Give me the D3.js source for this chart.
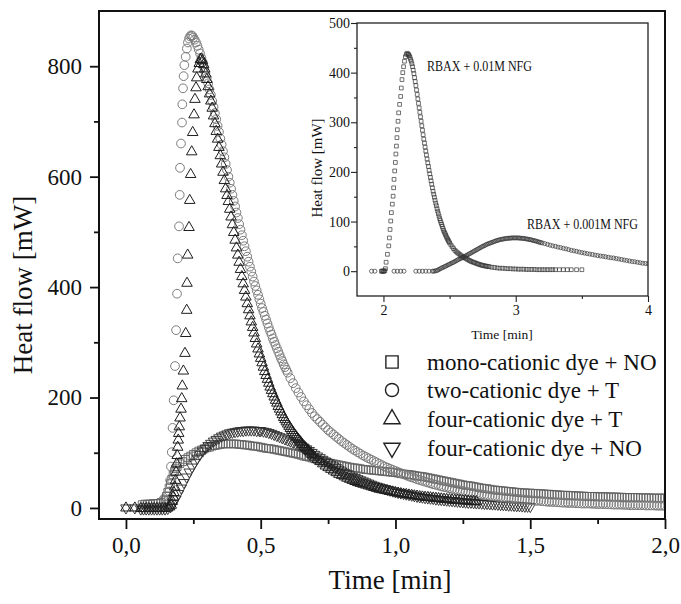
<!DOCTYPE html>
<html><head><meta charset="utf-8">
<script src="https://cdn.jsdelivr.net/npm/d3@7"></script>
<style>
body{margin:0;background:#fff;}
svg{display:block;}
text{font-family:"Liberation Serif","Times New Roman",serif;fill:#111;}
</style>
</head><body>
<svg id="c" width="681" height="604"></svg>
<script>
// ---------- DATA (time [min], heat flow [mW]) ----------
const legendLabels = ["mono-cationic dye + NO","two-cationic dye + T","four-cationic dye + T","four-cationic dye + NO"];
const xTicks = [0,0.5,1.0,1.5,2.0];
const xMinorTicks = [0.25,0.75,1.25,1.75];
const yTicks = [0,200,400,600,800];
const yMinorTicks = [100,300,500,700];
const insetXTicks = [2,3,4];
const insetXMinor = [2.5,3.5];
const insetYTicks = [0,100,200,300,400,500];
const insetYMinor = [50,150,250,350,450];
const insetNotes = ["RBAX + 0.01M NFG","RBAX + 0.001M NFG"];

const monoNO = [[0.06,6],[0.07,7],[0.08,7],[0.09,7],[0.10,8],[0.11,8],[0.12,8],[0.13,10],[0.14,13],[0.145,16],[0.15,21],[0.155,28],[0.16,36],[0.165,44],[0.17,52],[0.175,60],[0.18,66],[0.185,71],[0.19,75],[0.20,80],[0.21,84],[0.22,88],[0.23,91],[0.24,94],[0.25,97],[0.26,100],[0.27,103],[0.28,105],[0.29,107],[0.30,109],[0.31,110],[0.32,112],[0.33,113],[0.34,114],[0.35,115],[0.36,116],[0.37,116],[0.38,116],[0.39,116],[0.40,116],[0.41,116],[0.42,115],[0.43,115],[0.44,114],[0.45,114],[0.46,113],[0.47,112],[0.48,112],[0.49,111],[0.50,110],[0.51,109],[0.52,108],[0.53,107.5],[0.54,107],[0.55,106],[0.56,105],[0.57,104],[0.58,103],[0.59,102],[0.60,101],[0.61,100],[0.62,99],[0.63,98],[0.64,97],[0.65,95.5],[0.66,94],[0.67,93],[0.68,92],[0.69,90.5],[0.70,89],[0.71,87.5],[0.72,86],[0.73,84.5],[0.74,83],[0.75,82],[0.76,81],[0.77,80],[0.78,79],[0.79,78],[0.80,77],[0.81,76],[0.82,75],[0.83,74],[0.84,73],[0.85,72.5],[0.86,72],[0.87,71],[0.88,70],[0.89,69.5],[0.90,69],[0.91,68.5],[0.92,68],[0.93,67.5],[0.94,67],[0.95,66.5],[0.96,66],[0.97,65.5],[0.98,65],[0.99,64.5],[1.00,64],[1.01,63],[1.02,62],[1.03,61.5],[1.04,61],[1.05,60.5],[1.06,60],[1.07,59],[1.08,58],[1.09,57.5],[1.10,57],[1.11,56],[1.12,55],[1.13,54],[1.14,53],[1.15,52],[1.16,51],[1.17,50],[1.18,49],[1.19,48],[1.20,47],[1.21,46],[1.22,45],[1.23,44],[1.24,43],[1.25,42],[1.26,41],[1.27,40.5],[1.28,40],[1.29,39],[1.30,38],[1.31,37],[1.32,36],[1.33,35.5],[1.34,35],[1.35,34],[1.36,33],[1.37,32.5],[1.38,32],[1.39,31.5],[1.40,31],[1.41,30.5],[1.42,30],[1.43,29.5],[1.44,29],[1.45,28.5],[1.46,28],[1.47,27.5],[1.48,27.5],[1.49,27],[1.50,27],[1.51,26.5],[1.52,26.5],[1.53,26],[1.54,26],[1.55,25.5],[1.56,25],[1.57,25],[1.58,24.5],[1.59,24],[1.60,24],[1.61,23.5],[1.62,23],[1.63,23],[1.64,23],[1.65,22.5],[1.66,22.5],[1.67,22],[1.68,22],[1.69,21.5],[1.70,21.5],[1.71,21],[1.72,21],[1.73,21],[1.74,21],[1.75,20.5],[1.76,20.5],[1.77,20.5],[1.78,20.5],[1.79,20],[1.80,20],[1.81,20],[1.82,20],[1.83,19.5],[1.84,19.5],[1.85,19],[1.86,19],[1.87,19],[1.88,19],[1.89,19],[1.90,19],[1.91,18.5],[1.92,18.5],[1.93,18.5],[1.94,18.5],[1.95,18],[1.96,18],[1.97,18],[1.98,18],[1.99,18],[2.0,18]];

const twoT = [[0.06,1],[0.08,1],[0.10,1],[0.12,1],[0.14,2],[0.15,5],[0.155,9],[0.158,15],[0.161,30],[0.164,50],[0.167,75],[0.170,101],[0.173,145],[0.177,195],[0.182,257],[0.186,322],[0.1895,388],[0.192,452],[0.197,510],[0.1994,567],[0.2006,616],[0.2043,660],[0.208,698],[0.209,731],[0.2117,760],[0.214,782],[0.2166,802],[0.2217,817],[0.226,832],[0.230,843],[0.234,850],[0.238,854],[0.242,856],[0.246,855],[0.25,852],[0.255,848],[0.26,843],[0.265,837],[0.27,830],[0.275,823],[0.28,815],[0.285,807],[0.29,798],[0.295,789],[0.30,779],[0.305,769],[0.31,758],[0.315,748],[0.32,737],[0.325,726],[0.33,715],[0.335,704],[0.34,692],[0.345,681],[0.35,669],[0.355,658],[0.36,646],[0.365,635],[0.37,623],[0.375,612],[0.38,600],[0.385,589],[0.39,578],[0.395,567],[0.40,556],[0.405,546],[0.41,535],[0.415,525],[0.42,514],[0.425,504],[0.43,494],[0.435,484],[0.44,474],[0.445,465],[0.45,455],[0.455,446],[0.46,437],[0.465,428],[0.47,419],[0.475,410],[0.48,402],[0.485,394],[0.49,386],[0.495,378],[0.50,370],[0.505,362],[0.51,355],[0.515,348],[0.52,341],[0.525,334],[0.53,327],[0.535,320],[0.54,314],[0.545,307],[0.55,301],[0.555,295],[0.56,289],[0.565,283],[0.57,277],[0.575,271],[0.58,266],[0.585,260],[0.59,255],[0.595,250],[0.60,245],[0.61,235],[0.62,226],[0.63,217],[0.64,209],[0.65,201],[0.66,193],[0.67,186],[0.68,179],[0.69,172],[0.70,166],[0.71,161],[0.72,156],[0.73,151],[0.74,146],[0.75,141],[0.76,137],[0.77,133],[0.78,129],[0.79,125],[0.80,121],[0.81,117.5],[0.82,114],[0.83,110.5],[0.84,107],[0.85,104],[0.86,101],[0.87,98],[0.88,95],[0.89,92.5],[0.90,90],[0.91,87.5],[0.92,85],[0.93,82.5],[0.94,80],[0.95,77.5],[0.96,75],[0.97,73],[0.98,71],[0.99,69],[1.00,67],[1.01,65],[1.02,63],[1.03,61],[1.04,59],[1.05,57],[1.06,55.5],[1.07,54],[1.08,52],[1.09,50.5],[1.10,49],[1.11,47.5],[1.12,46],[1.13,44.5],[1.14,43],[1.15,42],[1.16,40.5],[1.17,39],[1.18,38],[1.19,37],[1.20,35.5],[1.21,34.5],[1.22,33.5],[1.23,32.5],[1.24,31.5],[1.25,30.5],[1.26,29.5],[1.27,28.5],[1.28,27.5],[1.29,27],[1.30,26],[1.31,25],[1.32,24.5],[1.33,23.5],[1.34,23],[1.35,22],[1.36,21.5],[1.37,21],[1.38,20],[1.39,19.5],[1.40,19],[1.41,18.5],[1.42,18],[1.43,17.5],[1.44,17],[1.45,16.5],[1.46,16],[1.47,15.5],[1.48,15],[1.49,14.5],[1.50,14],[1.51,13.5],[1.52,13],[1.53,13],[1.54,12.5],[1.55,12],[1.56,11.5],[1.57,11],[1.58,11],[1.59,10.5],[1.60,10.5],[1.61,10],[1.62,9.5],[1.63,9.5],[1.64,9],[1.65,9],[1.66,9],[1.67,8.5],[1.68,8.5],[1.69,8],[1.70,8],[1.71,8],[1.72,8],[1.73,7.5],[1.74,7.5],[1.75,7],[1.76,7],[1.77,7],[1.78,7],[1.79,6.5],[1.80,6.5],[1.81,6],[1.82,6],[1.83,6],[1.84,6],[1.85,5.5],[1.86,5.5],[1.87,5],[1.88,5],[1.89,5],[1.90,5],[1.91,5],[1.92,5],[1.93,4.5],[1.94,4.5],[1.95,4.5],[1.96,4.5],[1.97,4],[1.98,4],[1.99,4],[2.0,4]];

const fourT = [[0.0,0],[0.033,0],[0.055,-1],[0.065,-1],[0.075,-1],[0.085,-1],[0.095,-1],[0.105,-1],[0.115,-1],[0.125,-1],[0.135,-1],[0.145,-1],[0.155,0],[0.162,2],[0.168,5],[0.172,12],[0.175,20],[0.178,28],[0.181,38],[0.184,50],[0.186,65],[0.188,80],[0.190,95],[0.192,110],[0.194,123],[0.1957,135],[0.198,147],[0.2006,163],[0.2043,179],[0.207,198],[0.209,221],[0.213,248],[0.219,280],[0.2217,316],[0.2254,358],[0.2266,407],[0.229,458],[0.234,508],[0.2365,557],[0.240,604],[0.244,645],[0.2476,680],[0.2526,712],[0.256,740],[0.260,761],[0.2626,779],[0.267,795],[0.272,805],[0.276,812],[0.280,813],[0.284,810],[0.288,803],[0.292,795],[0.296,786],[0.30,776],[0.305,763],[0.31,750],[0.315,737],[0.32,724],[0.325,710],[0.33,696],[0.335,682],[0.34,668],[0.345,653],[0.35,638],[0.355,623],[0.36,608],[0.365,593],[0.37,578],[0.375,566],[0.38,555],[0.385,541],[0.39,527],[0.395,513],[0.40,499],[0.405,485],[0.41,471],[0.415,458],[0.42,445],[0.425,432],[0.43,419],[0.435,406],[0.44,394],[0.445,382],[0.45,370],[0.455,359],[0.46,348],[0.465,337],[0.47,327],[0.475,317],[0.48,307],[0.485,297],[0.49,288],[0.495,279],[0.50,271],[0.505,263],[0.51,255],[0.515,247],[0.52,240],[0.525,233],[0.53,226],[0.535,219],[0.54,213],[0.545,207],[0.55,201],[0.555,195],[0.56,190],[0.565,184],[0.57,179],[0.575,174],[0.58,169],[0.585,164],[0.59,160],[0.595,156],[0.60,152],[0.605,148],[0.61,144],[0.615,140.5],[0.62,137],[0.625,133.5],[0.63,130],[0.635,127],[0.64,124],[0.645,121],[0.65,118],[0.655,115],[0.66,112],[0.665,109.5],[0.67,107],[0.675,104.5],[0.68,102],[0.685,99.5],[0.69,97],[0.695,94.5],[0.70,92],[0.71,88],[0.72,84],[0.73,80],[0.74,76],[0.75,73],[0.76,70],[0.77,67],[0.78,64],[0.79,61],[0.80,59],[0.81,56.5],[0.82,54],[0.83,52],[0.84,50],[0.85,48],[0.86,46],[0.87,44.5],[0.88,43],[0.89,41.5],[0.90,40],[0.91,38.5],[0.92,37],[0.93,35.5],[0.94,34],[0.95,33],[0.96,32],[0.97,31],[0.98,30],[0.99,29],[1.00,28],[1.01,27],[1.02,26],[1.03,25],[1.04,24.5],[1.05,23.5],[1.06,23],[1.07,22],[1.08,21.5],[1.09,20.5],[1.10,20],[1.11,19.5],[1.12,19],[1.13,18.5],[1.14,18],[1.15,17.5],[1.16,17],[1.17,16.5],[1.18,16],[1.19,15.5],[1.20,15],[1.21,14.5],[1.22,14],[1.23,14],[1.24,13.5],[1.25,13],[1.26,13],[1.27,12.5],[1.28,12],[1.29,12],[1.30,11.5]];

const fourNO = [[0.0,0],[0.033,0],[0.055,-2],[0.065,-2],[0.075,-2],[0.085,-2],[0.095,-2],[0.105,-2],[0.115,-2],[0.125,-2],[0.135,-2],[0.145,-2],[0.155,-1],[0.165,2],[0.175,8],[0.185,16],[0.195,26],[0.205,36],[0.215,46],[0.225,56],[0.235,65],[0.245,74],[0.255,82],[0.265,90],[0.275,97],[0.285,103],[0.295,108],[0.305,113],[0.315,117],[0.325,121],[0.335,124],[0.345,127],[0.355,130],[0.365,132],[0.375,134],[0.385,136],[0.395,137],[0.405,138],[0.415,139],[0.425,140],[0.435,140],[0.445,141],[0.455,141],[0.465,141],[0.475,141],[0.485,140],[0.495,140],[0.50,140],[0.51,139],[0.52,138],[0.53,136.5],[0.54,135],[0.55,133],[0.56,131],[0.57,129],[0.58,127],[0.59,125],[0.60,123],[0.61,121],[0.62,119],[0.63,117],[0.64,115],[0.65,112.5],[0.66,110],[0.67,107],[0.68,104],[0.69,100.5],[0.70,97],[0.71,94],[0.72,91],[0.73,88],[0.74,85],[0.75,82],[0.76,79],[0.77,76],[0.78,73],[0.79,70],[0.80,67],[0.81,64.5],[0.82,62],[0.83,59.5],[0.84,57],[0.85,55],[0.86,53],[0.87,51],[0.88,49],[0.89,47],[0.90,45],[0.91,43],[0.92,41],[0.93,39.5],[0.94,38],[0.95,36.5],[0.96,35],[0.97,33.5],[0.98,32],[0.99,30.5],[1.00,29],[1.01,28],[1.02,27],[1.03,26],[1.04,25],[1.05,24],[1.06,23],[1.07,22],[1.08,21],[1.09,20],[1.10,19.5],[1.11,18.5],[1.12,18],[1.13,17.5],[1.14,17],[1.15,16],[1.16,15.5],[1.17,15],[1.18,14.5],[1.19,14],[1.20,13.5],[1.21,13],[1.22,12.5],[1.23,12],[1.24,11.5],[1.25,11],[1.26,10.5],[1.27,10],[1.28,10],[1.29,9.5],[1.30,9],[1.31,9],[1.32,8.5],[1.33,8],[1.34,8],[1.35,7.5],[1.36,7],[1.37,7],[1.38,6.5],[1.39,6],[1.40,6],[1.41,5.5],[1.42,5],[1.43,5],[1.44,4.5],[1.45,4],[1.46,4],[1.47,3.5],[1.48,3],[1.49,3],[1.50,2.5]];

// inset: RBAX + 0.01M NFG (squares), RBAX + 0.001M NFG (circles)
const inset001 = [[1.985,0],[1.99,0],[1.995,0],[2.0,0],[2.005,0],[2.01,1],[2.015,5],[2.02,18],[2.03,34],[2.04,51],[2.045,67],[2.05,84],[2.055,101],[2.06,118],[2.067,135],[2.073,151],[2.077,168],[2.08,185],[2.085,202],[2.09,219],[2.094,236],[2.098,252],[2.102,269],[2.105,285],[2.11,302],[2.115,319],[2.122,336],[2.13,352],[2.135,369],[2.14,386],[2.146,400],[2.152,412],[2.159,423],[2.166,432],[2.173,437],[2.18,439],[2.187,437],[2.19,436],[2.195,434],[2.20,431],[2.205,427],[2.21,423],[2.215,418],[2.22,412],[2.225,405],[2.23,398],[2.235,390],[2.24,382],[2.245,374],[2.25,365],[2.255,356],[2.26,347],[2.265,338],[2.27,329],[2.275,320],[2.28,311],[2.285,302],[2.29,293],[2.295,284],[2.30,275],[2.305,266],[2.31,258],[2.315,250],[2.32,242],[2.325,234],[2.33,226],[2.335,218],[2.34,211],[2.345,203],[2.35,196],[2.355,189],[2.36,182],[2.365,175],[2.37,168],[2.375,161],[2.38,155],[2.385,149],[2.39,143],[2.395,137],[2.40,132],[2.405,126],[2.41,121],[2.415,116],[2.42,111],[2.425,106],[2.43,102],[2.435,98],[2.44,94],[2.445,90],[2.45,86],[2.455,82],[2.46,79],[2.465,76],[2.47,73],[2.475,70],[2.48,67],[2.485,64.5],[2.49,62],[2.495,59.5],[2.50,57],[2.51,53],[2.52,49],[2.53,45.5],[2.54,42],[2.55,39.5],[2.56,37],[2.57,35],[2.58,33],[2.59,31],[2.60,29],[2.61,27.5],[2.62,26],[2.63,24.5],[2.64,23],[2.65,21.5],[2.66,20],[2.67,19],[2.68,18],[2.69,17],[2.70,16],[2.71,15],[2.72,14],[2.73,13],[2.74,12.5],[2.75,11.5],[2.76,11],[2.77,10.5],[2.78,10],[2.79,9.5],[2.80,9],[2.82,8],[2.84,7.5],[2.86,6.5],[2.88,6],[2.90,6],[2.92,5.5],[2.94,5],[2.96,5],[2.98,4.5],[3.00,4.5],[3.02,4],[3.04,4],[3.06,4],[3.08,3.5],[3.10,3.5],[3.12,3.5],[3.14,3.5],[3.16,3],[3.18,3],[3.20,3],[3.22,3],[3.24,3],[3.26,3],[3.28,3],[3.30,3],[3.33,3],[3.36,3],[3.39,3],[3.42,3],[3.46,3],[3.50,3]];

const inset0001 = [[1.91,0],[1.935,0],[2.08,0],[2.105,0],[2.13,0],[2.155,0],[2.245,0],[2.27,0],[2.295,0],[2.32,0],[2.345,0],[2.37,0],[2.38,0],[2.39,0.5],[2.40,1],[2.41,2],[2.42,3.5],[2.43,5],[2.44,6.5],[2.45,7.5],[2.46,9],[2.47,10],[2.48,11.5],[2.49,13],[2.50,14],[2.51,15.5],[2.52,17],[2.53,18],[2.54,19.5],[2.55,21],[2.56,22.5],[2.57,24],[2.58,25],[2.59,26.5],[2.60,28],[2.61,29.5],[2.62,30.5],[2.63,32],[2.64,33.5],[2.65,35],[2.66,36.5],[2.67,38],[2.68,39.5],[2.69,41],[2.70,42.5],[2.71,44],[2.72,45.5],[2.73,47],[2.74,48.5],[2.75,50],[2.76,51],[2.77,52.5],[2.78,54],[2.79,55],[2.80,56],[2.81,57],[2.82,58],[2.83,59],[2.84,60],[2.85,61],[2.86,62],[2.87,62.5],[2.88,63.5],[2.89,64],[2.90,64.5],[2.91,65],[2.92,65.5],[2.93,66],[2.94,66],[2.95,66.5],[2.96,66.5],[2.97,67],[2.98,67],[2.99,67],[3.00,67],[3.01,67],[3.02,67],[3.03,66.5],[3.04,66.5],[3.05,66],[3.06,66],[3.07,65.5],[3.08,65],[3.09,64.5],[3.10,64],[3.11,63.5],[3.12,63],[3.13,62],[3.14,61.5],[3.15,61],[3.16,60],[3.17,59],[3.18,58.5],[3.19,57.5],[3.20,57],[3.22,55.5],[3.24,54],[3.26,52.5],[3.28,51],[3.30,50],[3.32,48.5],[3.34,47.5],[3.36,46],[3.38,45],[3.40,43.5],[3.42,42],[3.44,41],[3.46,40],[3.48,38.5],[3.50,37.5],[3.52,36.5],[3.54,35.5],[3.56,34.5],[3.58,33.5],[3.60,32.5],[3.62,31.5],[3.64,30.5],[3.66,30],[3.68,29],[3.70,28],[3.72,27],[3.74,26.5],[3.76,25.5],[3.78,24.5],[3.80,23.5],[3.82,22.5],[3.84,21.5],[3.86,20.5],[3.88,19.5],[3.90,19],[3.92,18],[3.94,17],[3.96,16],[3.98,15.5],[4.00,15]];

// ---------- DRAW ----------
const svg = d3.select('#c');
const FONT = '"Liberation Serif","Times New Roman",serif';
const P = {l:99, r:665, t:11, b:519};
const x = d3.scaleLinear().domain([-0.1, 2.0]).range([P.l, P.r]);
const y = d3.scaleLinear().domain([-20, 900]).range([P.b, P.t]);

const defs = svg.append('defs');
defs.append('clipPath').attr('id','clipMain').append('rect')
  .attr('x',P.l).attr('y',P.t).attr('width',P.r-P.l).attr('height',P.b-P.t);

const symSquare = s => d3.symbol().type(d3.symbolSquare).size(s)();
const symCircle = s => d3.symbol().type(d3.symbolCircle).size(s)();
const symTri = s => d3.symbol().type(d3.symbolTriangle).size(s)();

function drawSeries(g, data, xs, ys, path, stroke, sw, flip){
  g.append('g').selectAll('path').data(data).join('path')
    .attr('d', path)
    .attr('transform', d => `translate(${xs(d[0])},${ys(d[1])})` + (flip ? ' rotate(180)' : ''))
    .attr('fill','none').attr('stroke',stroke).attr('stroke-width',sw);
}

const gData = svg.append('g').attr('clip-path','url(#clipMain)');
drawSeries(gData, monoNO, x, y, symSquare(60), '#606060', 0.9, false);
drawSeries(gData, fourNO, x, y, symTri(48), '#2a2a2a', 0.9, true);
drawSeries(gData, twoT, x, y, symCircle(60), '#7c7c7c', 1, false);
drawSeries(gData, fourT, x, y, symTri(48), '#1e1e1e', 1, false);

// main axes
function styleAxis(g, fs){
  g.attr('font-family', FONT).attr('font-size', fs);
  g.select('.domain').remove();
  g.selectAll('.tick line').attr('stroke','#111').attr('stroke-width',1.8);
  g.selectAll('.tick text').attr('fill','#111');
}
svg.append('g').attr('transform',`translate(0,${P.b})`)
  .call(d3.axisBottom(x).tickValues(xTicks).tickSize(10).tickPadding(8).tickFormat(d => d.toFixed(1).replace('.',',')))
  .call(g => styleAxis(g, 23));
svg.append('g').attr('transform',`translate(0,${P.b})`)
  .call(d3.axisBottom(x).tickValues(xMinorTicks).tickSize(5).tickFormat(''))
  .call(g => styleAxis(g, 23));
svg.append('g').attr('transform',`translate(${P.l},0)`)
  .call(d3.axisLeft(y).tickValues(yTicks).tickSize(9).tickPadding(8).tickFormat(d3.format('d')))
  .call(g => styleAxis(g, 23));
svg.append('g').attr('transform',`translate(${P.l},0)`)
  .call(d3.axisLeft(y).tickValues(yMinorTicks).tickSize(5).tickFormat(''))
  .call(g => styleAxis(g, 23));

svg.append('rect').attr('x',P.l).attr('y',P.t).attr('width',P.r-P.l).attr('height',P.b-P.t)
  .attr('fill','none').attr('stroke','#111').attr('stroke-width',2);

svg.append('text').attr('transform','translate(32,285) rotate(-90)')
  .attr('text-anchor','middle').attr('font-size',27).text('Heat flow [mW]');
svg.append('text').attr('x',390).attr('y',589)
  .attr('text-anchor','middle').attr('font-size',27).text('Time [min]');

// legend
const legG = svg.append('g');
const legSyms = [
  {p: symSquare(150), flip:false},
  {p: symCircle(135), flip:false},
  {p: symTri(115), flip:false},
  {p: symTri(115), flip:true}
];
const legY = [362, 390, 419, 448];
legendLabels.forEach((lab,i) => {
  legG.append('path').attr('d', legSyms[i].p)
    .attr('transform', `translate(392,${legY[i]})` + (legSyms[i].flip ? ' rotate(180)' : ''))
    .attr('fill','none').attr('stroke','#222').attr('stroke-width',1.4);
  legG.append('text').attr('x',427).attr('y',legY[i]+8).attr('font-size',23).text(lab);
});

// ---------- INSET ----------
const I = {l:357, r:648, t:23, b:296};
const xi = d3.scaleLinear().domain([1.8, 4.0]).range([I.l, I.r]);
const yi = d3.scaleLinear().domain([-50, 500]).range([I.b, I.t]);
svg.append('rect').attr('x',I.l).attr('y',I.t).attr('width',I.r-I.l).attr('height',I.b-I.t)
  .attr('fill','#fff');
defs.append('clipPath').attr('id','clipInset').append('rect')
  .attr('x',I.l).attr('y',I.t).attr('width',I.r-I.l).attr('height',I.b-I.t);
const gIn = svg.append('g').attr('clip-path','url(#clipInset)');
drawSeries(gIn, inset0001, xi, yi, symCircle(13), '#333', 0.7, false);
drawSeries(gIn, inset001, xi, yi, symSquare(14), '#333', 0.7, false);

function styleInset(g){
  g.attr('font-family', FONT).attr('font-size', 14);
  g.select('.domain').remove();
  g.selectAll('.tick line').attr('stroke','#222').attr('stroke-width',1.1);
  g.selectAll('.tick text').attr('fill','#111');
}
svg.append('g').attr('transform',`translate(0,${I.b})`)
  .call(d3.axisBottom(xi).tickValues(insetXTicks).tickSize(6).tickPadding(3).tickFormat(d3.format('d')))
  .call(styleInset);
svg.append('g').attr('transform',`translate(0,${I.b})`)
  .call(d3.axisBottom(xi).tickValues(insetXMinor).tickSize(3).tickFormat(''))
  .call(styleInset);
svg.append('g').attr('transform',`translate(${I.l},0)`)
  .call(d3.axisLeft(yi).tickValues(insetYTicks).tickSize(6).tickPadding(1).tickFormat(d3.format('d')))
  .call(styleInset);
svg.append('g').attr('transform',`translate(${I.l},0)`)
  .call(d3.axisLeft(yi).tickValues(insetYMinor).tickSize(3).tickFormat(''))
  .call(styleInset);
svg.append('rect').attr('x',I.l).attr('y',I.t).attr('width',I.r-I.l).attr('height',I.b-I.t)
  .attr('fill','none').attr('stroke','#222').attr('stroke-width',1.3);

svg.append('text').attr('transform','translate(322,168) rotate(-90)')
  .attr('text-anchor','middle').attr('font-size',15).text('Heat flow [mW]');
svg.append('text').attr('x',502).attr('y',339)
  .attr('text-anchor','middle').attr('font-size',13.5).text('Time [min]');
svg.append('text').attr('x',427).attr('y',71).attr('font-size',15.5)
  .attr('textLength',105).attr('lengthAdjust','spacingAndGlyphs').text(insetNotes[0]);
svg.append('text').attr('x',527).attr('y',229).attr('font-size',15.5)
  .attr('textLength',111).attr('lengthAdjust','spacingAndGlyphs').text(insetNotes[1]);
</script>
</body></html>
